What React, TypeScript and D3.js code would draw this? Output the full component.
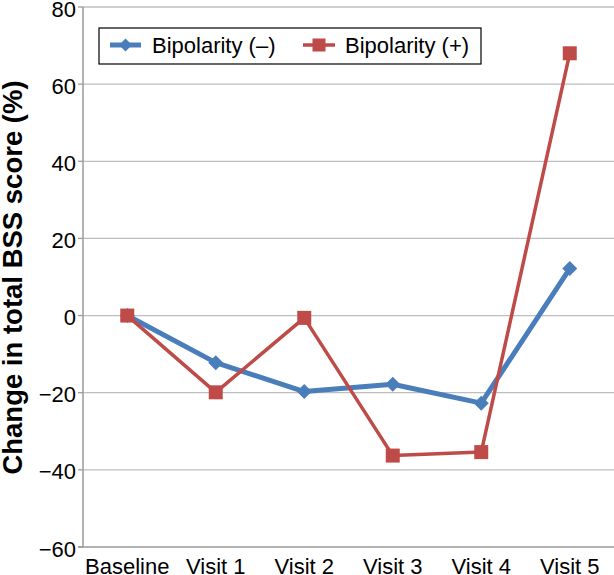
import React from "react";
import * as d3 from "d3";

const categories = ["Baseline", "Visit 1", "Visit 2", "Visit 3", "Visit 4", "Visit 5"];
const bipolarNeg = [0, -12.2, -19.7, -17.8, -22.7, 12.2];
const bipolarPos = [0, -19.9, -0.6, -36.3, -35.4, 68.0];
const yTicks = [-60, -40, -20, 0, 20, 40, 60, 80];
const seriesNames = ["Bipolarity (–)", "Bipolarity (+)"];

const W = 614;
const H = 575;
const left = 83;
const right = 614;
const top = 7;
const bottom = 547;
const BLUE = "#4A7EBB";
const RED = "#BE4B48";
const FONT = "'Liberation Sans', Arial, Helvetica, sans-serif";

export default function App() {
  const x = d3.scaleBand<string>().domain(categories).range([left, right]);
  const y = d3.scaleLinear().domain([-60, 80]).range([bottom, top]);
  const cx = (c: string) => (x(c) as number) + x.bandwidth() / 2;
  const line = d3
    .line<number>()
    .x((_, i) => cx(categories[i]))
    .y((d) => y(d));
  const diamond = (px: number, py: number, r: number) =>
    `M${px},${py - r}L${px + r},${py}L${px},${py + r}L${px - r},${py}Z`;

  return (
    <svg
      width={W}
      height={H}
      style={{ position: "absolute", left: 0, top: 0, background: "#fff" }}
      fontFamily={FONT}
    >
      {/* gridlines */}
      {yTicks.map((t) => (
        <g key={t}>
          {t > -60 && (
            <line x1={left} x2={right} y1={y(t)} y2={y(t)} stroke="#BEBEBE" strokeWidth={1.3} />
          )}
          <line x1={left - 5} x2={left} y1={y(t)} y2={y(t)} stroke="#9A9A9A" strokeWidth={1.3} />
          <text x={76} y={y(t) + 9.5} textAnchor="end" fontSize={22} fill="#000">
            {t < 0 ? `\u2212${Math.abs(t)}` : t}
          </text>
        </g>
      ))}
      {/* axes */}
      <line x1={left} x2={left} y1={top} y2={bottom} stroke="#9A9A9A" strokeWidth={1.5} />
      <line x1={left - 5} x2={right} y1={bottom} y2={bottom} stroke="#9A9A9A" strokeWidth={1.5} />
      {categories.map((c) => (
        <text key={c} x={cx(c)} y={574} textAnchor="middle" fontSize={22} fill="#000">
          {c}
        </text>
      ))}
      {/* y title */}
      <text
        transform={`translate(22,${(top + bottom) / 2 + 0.5}) rotate(-90)`}
        textAnchor="middle"
        fontSize={27.5}
        fontWeight="bold"
        fill="#000"
      >
        Change in total BSS score (%)
      </text>
      {/* series */}
      <path d={line(bipolarNeg) || ""} fill="none" stroke={BLUE} strokeWidth={5} strokeLinejoin="round" />
      {bipolarNeg.map((v, i) => (
        <path key={"b" + i} d={diamond(cx(categories[i]), y(v), 7.5)} fill={BLUE} />
      ))}
      <path d={line(bipolarPos) || ""} fill="none" stroke={RED} strokeWidth={3.5} strokeLinejoin="round" />
      {bipolarPos.map((v, i) => (
        <rect key={"r" + i} x={cx(categories[i]) - 7} y={y(v) - 7} width={14} height={14} fill={RED} />
      ))}
      {/* legend */}
      <rect x={99} y={28} width={382} height={36} fill="#fff" stroke="#000" strokeWidth={1.2} />
      <line x1={110} x2={141} y1={45} y2={45} stroke={BLUE} strokeWidth={5} />
      <path d={diamond(125.5, 45, 6.5)} fill={BLUE} />
      <text x={152} y={53} fontSize={22} fill="#000">{seriesNames[0]}</text>
      <line x1={303} x2={335} y1={45} y2={45} stroke={RED} strokeWidth={3.5} />
      <rect x={312.5} y={38.5} width={13} height={13} fill={RED} />
      <text x={345} y={53} fontSize={22} fill="#000">{seriesNames[1]}</text>
    </svg>
  );
}
